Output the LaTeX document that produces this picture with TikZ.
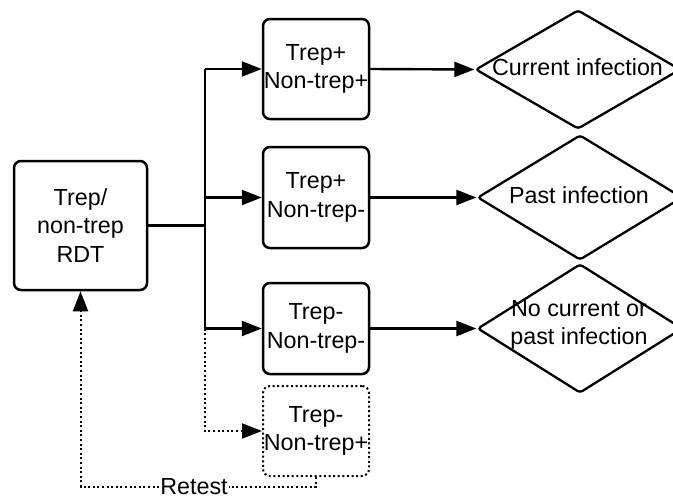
\documentclass[tikz,border=0pt]{standalone}
\usepackage{fontspec}
\setmainfont{Liberation Sans}
\usetikzlibrary{shapes.geometric,arrows.meta}
\begin{document}
\begin{tikzpicture}[x=1pt,y=-1pt,
  font=\fontsize{23.3}{28.5}\selectfont,
  box/.style={draw, line width=2.5pt, rounded corners=7pt, inner sep=0pt, align=center, minimum width=106pt},
  dbox/.style={box, line width=2pt, dash pattern=on 2pt off 2.6pt},
  dia/.style={draw, diamond, line width=2.3pt, rounded corners=3pt, inner sep=0pt, minimum width=205pt},
  txt/.style={inner sep=0pt, align=center},
  conn/.style={line width=2.4pt},
  arr/.style={conn, -{Triangle[length=20pt,width=15pt]}},
  dots/.style={line width=2pt, dash pattern=on 2pt off 2.6pt}]
\clip (0,0) rectangle (673,498);
\fill[white] (0,0) rectangle (673,498);
% nodes
\node[box, minimum width=133pt, minimum height=129pt] (rdt) at (80.5,225.5) {Trep/\\non-trep\\RDT};
\node[box, minimum height=100pt] (b1) at (316,69) {Trep+\\Non-trep+};
\node[box, minimum height=101pt] (b2) at (316,197.5) {Trep+\\Non-trep-};
\node[box, minimum height=91pt] (b3) at (316,328.5) {Trep-\\Non-trep-};
\node[dbox, minimum height=90pt] (b4) at (316,431) {Trep-\\Non-trep+};
\node[dia, minimum height=119pt] (d1) at (578,69.5) {};
\node[dia, minimum height=125pt] (d2) at (580,197.5) {};
\node[dia, minimum height=129pt] (d3) at (580,328.5) {};
\node[txt] (t1) at (577.5,67) {Current infection};
\node[txt] (t2) at (579,195) {Past infection};
\node[txt] (t3) at (579,325) {No current or\\past infection};
\coordinate (j) at (205,225.5);
\node[txt, fill=white, inner xsep=1pt] (rt) at (194,486.5) {Retest};
% connectors
\draw[conn] (rdt.east) -- (j);
\draw[conn] (b1.west -| j) -- (b3.west -| j);
\draw[arr] (b1.west -| j) -- (b1.west);
\draw[arr] (b2.west -| j) -- (b2.west);
\draw[arr] (b3.west -| j) -- (b3.west);
\draw[dots, -{Triangle[length=20pt,width=15pt]}] (b3.west -| j) -- (b4.west -| j) -- (b4.west);
\draw[arr] (b1.east) -- (d1.west);
\draw[arr] (b2.east) -- (d2.west);
\draw[arr] (b3.east) -- (d3.west);
\draw[dots] (b4.south) |- (rt.east);
\draw[dots, -{Triangle[length=20pt,width=15pt]}] (rt.west) -| (rdt.south);
\end{tikzpicture}
\end{document}
